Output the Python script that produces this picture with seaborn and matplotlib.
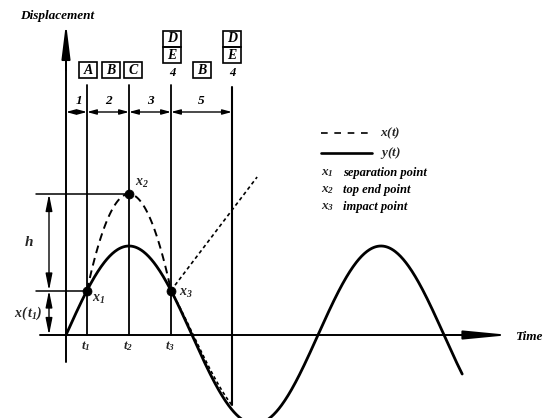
import numpy as np
import pandas as pd
import matplotlib
matplotlib.use("Agg")
import matplotlib.pyplot as plt
from matplotlib.patches import Rectangle
import seaborn as sns

# ---- model quantities (phase in degrees, displacement in units of the amplitude) ----
amplitude = 1.0
phase_end = 566            # where the drawn response y(t) stops
t_sep = 30                 # t1: separation
t_top = 90                 # t2: top end point
t_imp = 150                # t3: impact
t_last = 237               # end of stage 5
top_height = 1.584         # height of x2 above the time axis
rebound_end = (273, 1.775) # end of the dotted free-flight line after impact
fall_lag_deg = 5           # dotted fall lags the response by up to this phase

stage_numbers = ["1", "2", "3", "5"]
stage_bounds = [0, t_sep, t_top, t_imp, t_last]
point_names = ["$x_1$", "$x_2$", "$x_3$"]
legend_notes = ["separation point", "top end point", "impact point"]

# ---- drawing space: 0.7 px per degree, 89 px per unit, origin at (66, 335) px ----
def gx(px):
    return (px - 66) / 0.7

def gy(py):
    return (335 - py) / 89.0

sns.set_style("white")
plt.rcParams["font.family"] = ["Liberation Serif", "DejaVu Serif"]
plt.rcParams["mathtext.fontset"] = "custom"
plt.rcParams["mathtext.it"] = "Liberation Serif:style=italic:weight=bold"
plt.rcParams["mathtext.rm"] = "Liberation Serif:style=italic:weight=bold"
plt.rcParams["mathtext.bf"] = "Liberation Serif:style=italic:weight=bold"

FONT = dict(family="Liberation Serif", weight="bold", style="italic", color="black")

fig = plt.figure(figsize=(5.48, 4.18), dpi=100)
ax = fig.add_axes([0, 0, 1, 1])
ax.set_xlim(gx(0), gx(548))
ax.set_ylim(gy(418), gy(0))
ax.axis("off")

# response y(t)
phase = np.linspace(0, phase_end, 600)
resp = pd.DataFrame({"t": phase, "y": amplitude * np.sin(np.radians(phase))})
sns.lineplot(data=resp, x="t", y="y", ax=ax, color="black", lw=2.0,
             estimator=None, sort=False)

# free flight x(t): parabola through x1, x2, x3
flight_t = [t_sep, t_top, t_imp]
flight_y = [amplitude * np.sin(np.radians(t_sep)), top_height,
            amplitude * np.sin(np.radians(t_imp))]
coef = np.polyfit(flight_t, flight_y, 2)
tp = np.linspace(t_sep, t_imp, 120)
sns.lineplot(x=tp, y=np.polyval(coef, tp), ax=ax, color="black", lw=1.4,
             linestyle=(0, (4, 2.6)), estimator=None, sort=False)

# dotted rebound after impact
sns.lineplot(x=[t_imp, rebound_end[0]], y=[flight_y[2], rebound_end[1]], ax=ax,
             color="black", lw=1.2, linestyle=(0, (2.2, 1.8)),
             estimator=None, sort=False)

# dotted fall following the response
tf = np.linspace(t_imp, t_last, 60)
lag = fall_lag_deg * (tf - t_imp) / (t_last - t_imp)
yf = amplitude * np.sin(np.radians(tf - lag))
sns.lineplot(x=tf, y=yf, ax=ax, color="black", lw=1.2,
             linestyle=(0, (2.0, 1.6)), estimator=None, sort=False)

# marked points
sns.scatterplot(x=flight_t, y=flight_y, ax=ax, color="black", s=42,
                edgecolor="black", zorder=5)

# axes with long filled arrowheads
ax.plot([0, 0], [gy(362), gy(45)], color="black", lw=1.4)
ax.annotate("", xy=(0, gy(23)), xytext=(0, gy(70)),
            arrowprops=dict(arrowstyle="-|>,head_length=2.1,head_width=0.26",
                            color="black", lw=1.4, shrinkA=0, shrinkB=0,
                            mutation_scale=10))
ax.plot([gx(40), gx(480)], [0, 0], color="black", lw=1.4)
ax.annotate("", xy=(gx(510), 0), xytext=(gx(450), 0),
            arrowprops=dict(arrowstyle="-|>,head_length=2.7,head_width=0.26",
                            color="black", lw=1.4, shrinkA=0, shrinkB=0,
                            mutation_scale=10))
ax.text(gx(515), gy(337), "Time", fontsize=9.5, ha="left", va="center", **FONT)
ax.text(gx(20), gy(16), "Displacement", fontsize=9.5, ha="left", va="center", **FONT)

# stage boundaries
top = gy(85)
for t in [t_sep, t_top, t_imp]:
    ax.plot([t, t], [0, top], color="black", lw=1.3)
ax.plot([t_last, t_last], [yf[-1], gy(87)], color="black", lw=1.5)

# stage dimension arrows and numbers
row = gy(112)
for a, b, lab in zip(stage_bounds[:-1], stage_bounds[1:], stage_numbers):
    ax.annotate("", xy=(b, row), xytext=(a, row),
                arrowprops=dict(arrowstyle="<|-|>,head_length=0.55,head_width=0.15",
                                color="black", lw=1.0, shrinkA=0, shrinkB=0,
                                mutation_scale=10))
    ax.text((a + b) / 2 + (3 if lab == "1" else 0), gy(101), lab, fontsize=9.5,
            ha="center", va="center", **FONT)

# state boxes
bw, bh = 18 / 0.7, 16 / 89.0

def box(cx_px, cy_px, letter):
    cx, cy = gx(cx_px), gy(cy_px)
    ax.add_patch(Rectangle((cx - bw / 2, cy - bh / 2), bw, bh, fill=False,
                           ec="black", lw=1.2))
    ax.text(cx, cy - 0.005, letter, fontsize=10, ha="center", va="center", **FONT)

box(88, 70, "A")
box(111, 70, "B")
box(133.5, 70, "C")
box(202, 70, "B")
for cx in [172, 232]:
    box(cx, 38.5, "D")
    box(cx, 55, "E")
    ax.text(gx(cx), gy(73), "4", fontsize=9, ha="center", va="center", **FONT)

# height dimensions on the left
ax.plot([gx(36), t_top], [top_height, top_height], color="black", lw=1.1)
ax.plot([gx(36), t_sep], [flight_y[0], flight_y[0]], color="black", lw=1.1)
for a, b in [(top_height, flight_y[0]), (flight_y[0], 0)]:
    ax.annotate("", xy=(gx(49), b), xytext=(gx(49), a),
                arrowprops=dict(arrowstyle="<|-|>,head_length=1.0,head_width=0.2",
                                color="black", lw=1.0, shrinkA=0, shrinkB=0,
                                mutation_scale=10))
ax.text(gx(29), gy(242), "$h$", fontsize=11, ha="center", va="center")
ax.text(gx(28), gy(313), "$x(\\,t_1)$", fontsize=10, ha="center", va="center")

# time instants
for t, lab in zip([t_sep, t_top, t_imp], ["$t_1$", "$t_2$", "$t_3$"]):
    ax.text(t - 2, gy(346), lab, fontsize=9.5, ha="center", va="center")

# point labels
ax.text(gx(92), gy(299), point_names[0], fontsize=10, ha="left", va="center")
ax.text(gx(135), gy(183), point_names[1], fontsize=10, ha="left", va="center")
ax.text(gx(179), gy(293), point_names[2], fontsize=10, ha="left", va="center")

# legend
ax.plot([gx(321), gx(371)], [gy(133), gy(133)], color="black", lw=1.2,
        linestyle=(0, (4, 4)))
ax.text(gx(380), gy(133), "$x(t)$", fontsize=9.5, ha="left", va="center")
ax.plot([gx(321), gx(372)], [gy(153), gy(153)], color="black", lw=1.9)
ax.text(gx(380), gy(153), "$y(t)$", fontsize=9.5, ha="left", va="center")
for i, (name, note) in enumerate(zip(point_names, legend_notes)):
    py = 173 + 17 * i
    ax.text(gx(321), gy(py), name, fontsize=9.5, ha="left", va="center")
    ax.text(gx(343), gy(py), note, fontsize=9, ha="left", va="center", **FONT)

fig.savefig("out.png", dpi=100)
